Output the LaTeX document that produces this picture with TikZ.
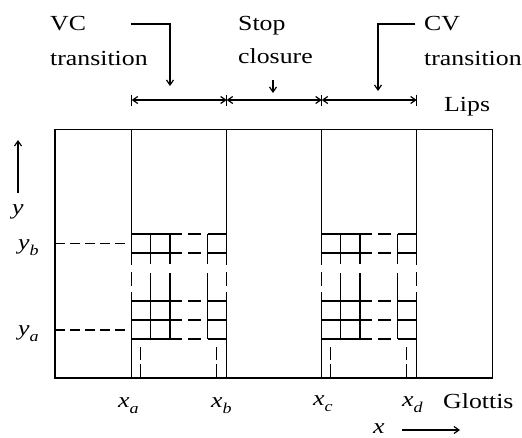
\documentclass[tikz,border=0pt]{standalone}
\usepackage{fontspec}
\setmainfont{Liberation Serif}
\usetikzlibrary{arrows.meta}
\newcommand\hs[1]{\scalebox{1.2}[1]{#1}}
\newcommand\lbsub[2]{\hs{\textit{#1}\raisebox{-0.3em}{\fontsize{15}{15}\selectfont\textit{#2}}}}
\begin{document}
\begin{tikzpicture}[x=1pt,y=-1pt,
  ln/.style={line width=1.3pt,line cap=butt},
  grd/.style={line width=1.5pt},
  tip/.style={line width=1.2pt,-{Straight Barb[length=5pt,width=7pt]}},
  dimline/.style={line width=1.2pt,{Straight Barb[length=5pt,width=7pt]}-{Straight Barb[length=5pt,width=7pt]}},
  dsh/.style={line width=1.4pt,dash pattern=on 10pt off 5pt},
  lab/.style={inner sep=0pt,anchor=base west,font=\fontsize{21.5}{24}\selectfont}]
\useasboundingbox (0,0) rectangle (522,437);
% texts
\node[lab] (vc) at (50,30) {\hs{VC}};
\node[lab] (vct) at (50,65) {\hs{transition}};
\node[lab] (stop) at (238,30) {\hs{Stop}};
\node[lab] (clos) at (238,63) {\hs{closure}};
\node[lab] (cv) at (424,30) {\hs{CV}};
\node[lab] (cvt) at (424,65) {\hs{transition}};
\node[lab] (lips) at (444,111) {\hs{Lips}};
\node[lab] (glot) at (443,408) {\hs{Glottis}};
\node[lab] (xa) at (118,407) {\lbsub{x}{a}};
\node[lab] (xb) at (211,407) {\lbsub{x}{b}};
\node[lab] (xc) at (313,405) {\lbsub{x}{c}};
\node[lab] (xd) at (402,406) {\lbsub{x}{d}};
\node[lab] (xl) at (373,433) {\hs{\textit{x}}};
\node[lab] (yl) at (12,214) {\hs{\textit{y}}};
\node[lab] (yb) at (18,249) {\lbsub{y}{b}};
\node[lab] (ya) at (18,335) {\lbsub{y}{a}};
% outer frame
\draw[ln] (55,129.5) rectangle (492.5,378);
% lips dimension line
\coordinate (la) at (131.7,100);
\coordinate (lb) at (226.7,100);
\coordinate (lc) at (321.7,100);
\coordinate (ld) at (416.7,100);
\draw[dimline] (la) -- (lb);
\draw[dimline] (lb) -- (lc);
\draw[dimline] (lc) -- (ld);
\foreach \c in {la,lb,lc,ld}{\draw[line width=1.2pt] ([yshift=5.5pt]\c) -- ([yshift=-5.5pt]\c);}
% annotation arrows
\coordinate (vc0) at (130.7,24);
\coordinate (vc1) at (170,24);
\coordinate (vc2) at (170,86);
\draw[tip] (vc0) -- (vc1) -- (vc2);
\coordinate (sc0) at (273,80);
\coordinate (sc1) at (273,93);
\draw[tip] (sc0) -- (sc1);
\coordinate (cv0) at (415,24);
\coordinate (cv1) at (378,24);
\coordinate (cv2) at (378,91);
\draw[tip] (cv0) -- (cv1) -- (cv2);
% axes arrows
\coordinate (ay0) at (18,193);
\coordinate (ay1) at (18,140);
\draw[tip] (ay0) -- (ay1);
\coordinate (ax0) at (402,430);
\coordinate (ax1) at (460,430);
\draw[tip] (ax0) -- (ax1);
% y dashed levels
\draw[dsh] (55,243.5) -- (129,243.5);
\draw[dsh] (55,330) -- (129,330);
% the two gridded regions
\foreach \o in {0,190}{
  \foreach \X in {131.7,226.7}{
    \draw[ln] (\X+\o,129.5) -- (\X+\o,265);
    \draw[ln] (\X+\o,272) -- (\X+\o,286);
    \draw[ln] (\X+\o,292) -- (\X+\o,378);
  }
  \foreach \X in {150.7,170,207.5}{
    \draw[grd] (\X+\o,234) -- (\X+\o,264);
    \draw[grd] (\X+\o,273) -- (\X+\o,339);
  }
  \foreach \Y in {234,253,301,320,339}{
    \draw[grd] (131.7+\o,\Y) -- (182+\o,\Y);
    \draw[grd] (188+\o,\Y) -- (201+\o,\Y);
    \draw[grd] (207.5+\o,\Y) -- (226.7+\o,\Y);
  }
  \foreach \X in {140.7,216.7}{
    \draw[ln] (\X+\o,347) -- (\X+\o,360);
    \draw[ln] (\X+\o,364) -- (\X+\o,378);
  }
}
\end{tikzpicture}
\end{document}
